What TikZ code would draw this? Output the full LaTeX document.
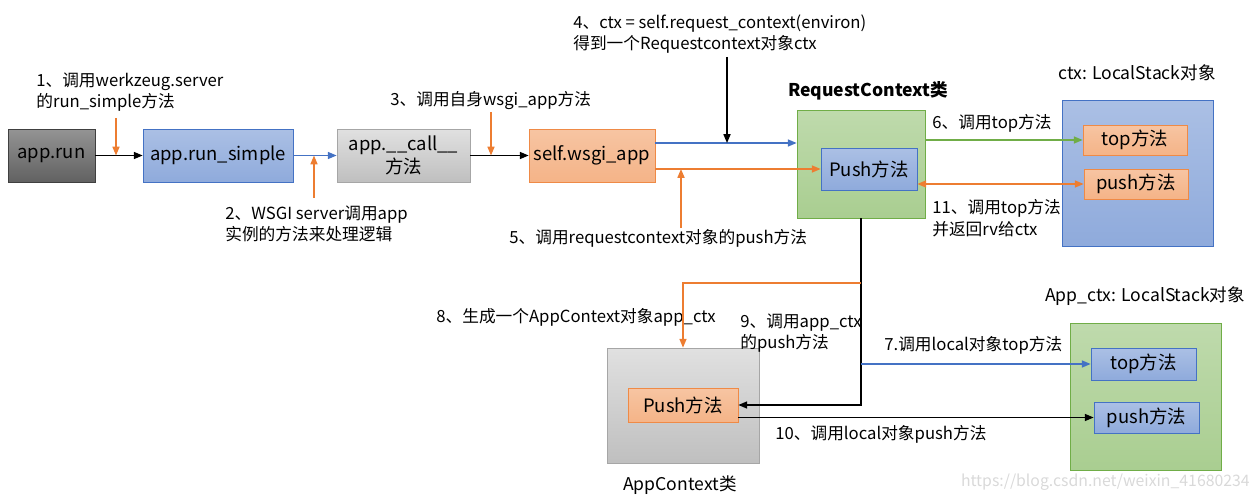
\documentclass[tikz,border=0pt]{standalone}
\usepackage{fontspec}
\setmainfont{Noto Sans CJK SC}
\usetikzlibrary{arrows.meta}

\definecolor{bleu}{HTML}{4472C4}
\definecolor{orange}{HTML}{ED7D31}
\definecolor{vert}{HTML}{70AD47}

\begin{document}
\begin{tikzpicture}[x=0.02cm, y=-0.02cm]
\tikzset{boite/.style={draw, rectangle, inner sep=0pt, align=center, font=\fontsize{10.5}{13}\selectfont},
  gfonce/.style={boite, top color=black!42, bottom color=black!62, draw=black!75},
  gclair/.style={boite, top color=black!12, bottom color=black!25, draw=black!35},
  bleubox/.style={boite, top color=bleu!45, bottom color=bleu!60, draw=bleu},
  orbox/.style={boite, top color=orange!45, bottom color=orange!58, draw=orange!90},
  vertbox/.style={boite, top color=vert!45, bottom color=vert!60, draw=vert},
  etiq/.style={anchor=north west, align=left, inner sep=0pt, font=\fontsize{9.5}{12.5}\selectfont},
  titre/.style={inner sep=0pt, font=\fontsize{10}{12}\selectfont},
  fl/.style={line width=0.8pt, -{Triangle[length=5pt, width=4pt]}},
  flb/.style={fl, draw=bleu},
  flo/.style={fl, draw=orange},
  flv/.style={fl, draw=vert}}
\useasboundingbox (0,0) rectangle (1257,500);

% premiere ligne
\node[gfonce, minimum width=1.74cm, minimum height=1.06cm] (run) at (51.5,155.5) {app.run};
\node[bleubox, minimum width=3cm, minimum height=1.06cm] (simple) at (218,155.5) {app.run\_simple};
\node[gclair, minimum width=2.66cm, minimum height=1.06cm] (call) at (403.5,155.5) {app.\_\_call\_\_\\方法};
\node[orbox, minimum width=2.52cm, minimum height=1.06cm] (wsgi) at (592,155.5) {self.wsgi\_app};

% RequestContext
\node[vertbox, minimum width=2.56cm, minimum height=2.16cm] (RC) at (861,164) {};
\node[bleubox, minimum width=1.92cm, minimum height=0.84cm] (RCpush) at (869,169) {Push方法};
\node[titre, font=\fontsize{10}{12}\selectfont\bfseries] (RCtitre) at (868,91) {RequestContext类};

% ctx LocalStack
\node[bleubox, minimum width=3.02cm, minimum height=2.92cm] (ctxLS) at (1137.5,173) {};
\node[orbox, minimum width=2.08cm, minimum height=0.6cm] (ctxtop) at (1135,140) {top方法};
\node[orbox, minimum width=2.08cm, minimum height=0.6cm] (ctxpush) at (1136,184) {push方法};
\node[titre] (ctxtitre) at (1137,73) {ctx: LocalStack对象};

% AppContext
\node[gclair, minimum width=3.04cm, minimum height=2.3cm] (AC) at (683,405.5) {};
\node[orbox, minimum width=2.2cm, minimum height=0.68cm] (ACpush) at (683,405) {Push方法};
\node[titre] (ACtitre) at (680,485) {AppContext类};

% App_ctx LocalStack
\node[vertbox, minimum width=3.02cm, minimum height=2.94cm] (ALS) at (1145.5,396.5) {};
\node[bleubox, minimum width=2.1cm, minimum height=0.64cm] (Atop) at (1143.5,364) {top方法};
\node[bleubox, minimum width=2.1cm, minimum height=0.62cm] (Apush) at (1146.5,417.5) {push方法};
\node[titre] (Atitre) at (1145,296) {App\_ctx: LocalStack对象};

% etiquettes
\node[etiq] (e1) at (36,72) {1、调用werkzeug.server\\的run\_simple方法};
\node[etiq] (e2) at (225,205) {2、WSGI server调用app\\实例的方法来处理逻辑};
\node[etiq] (e3) at (390,91) {3、调用自身wsgi\_app方法};
\node[etiq] (e4) at (573,14) {4、ctx = self.request\_context(environ)\\得到一个Requestcontext对象ctx};
\node[etiq] (e5) at (509,229) {5、调用requestcontext对象的push方法};
\node[etiq] (e6) at (932,114) {6、调用top方法};
\node[etiq] (e11) at (932,199) {11、调用top方法\\并返回rv给ctx};
\node[etiq] (e8) at (436,308) {8、生成一个AppContext对象app\_ctx};
\node[etiq] (e9) at (740,313) {9、调用app\_ctx\\的push方法};
\node[etiq] (e7) at (884,336) {7.调用local对象top方法};
\node[etiq] (e10) at (775,425) {10、调用local对象push方法};
\node[anchor=east, inner sep=0pt, text=black!15, font=\fontsize{9}{11}\selectfont] (wm) at (1250,482) {https://blog.csdn.net/weixin\_41680234};

% points libres
\coordinate (c1) at (116,118);
\coordinate (c2) at (314,198);
\coordinate (c3) at (491,112);
\coordinate (c4) at (727,57);
\coordinate (c5) at (681,228);
\coordinate (y143) at (0,143);
\coordinate (y283) at (0,283);

% fleches
\draw[fl] (run) -- (simple);
\draw[flo] (c1) -- (c1 |- run);
\draw[flb] (simple) -- (call);
\draw[flo] (c2) -- (c2 |- simple);
\draw[fl] (call) -- (wsgi);
\draw[flo] (c3) -- (c3 |- call);
\draw[flb] (wsgi.east |- y143) -- (RC.west |- y143);
\draw[fl] (c4) -- (c4 |- y143);
\draw[flo] (wsgi.east |- RCpush) -- (RCpush.west);
\draw[flo] (c5) -- (c5 |- RCpush);
\draw[flv] (RC.east |- ctxtop) -- (ctxtop.west);
\draw[flo, {Triangle[length=5pt, width=4pt]}-{Triangle[length=5pt, width=4pt]}] (RCpush.east |- ctxpush) -- (ctxpush.west);
\draw[fl] (RC.south) -- (RC.south |- ACpush) -- (ACpush.east);
\draw[flo] (RC.south |- y283) -- (AC.north |- y283) -- (AC.north);
\draw[flb] (RC.south |- Atop) -- (Atop.west);
\draw[fl] (ACpush.east |- Apush) -- (Apush.west);
\end{tikzpicture}
\end{document}
